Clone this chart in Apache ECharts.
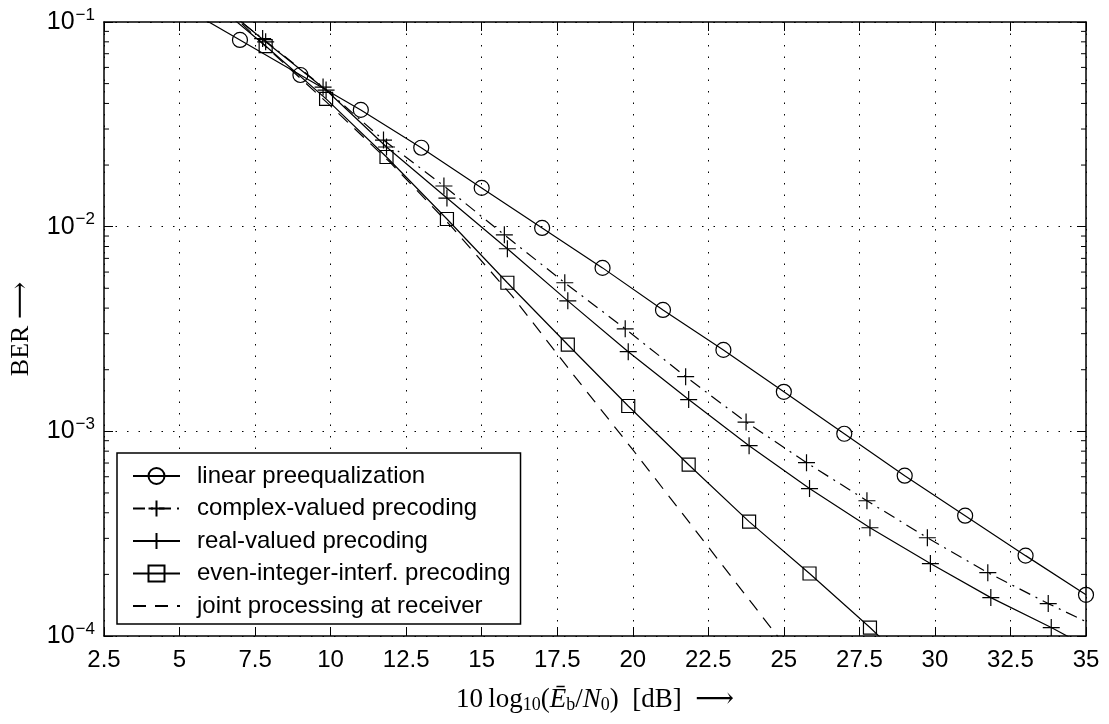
<!DOCTYPE html>
<html>
<head>
<meta charset="utf-8">
<script src="https://cdn.jsdelivr.net/npm/echarts@6/dist/echarts.min.js"></script>
<style>
html,body{margin:0;padding:0;background:#fff;}
#chart{width:1109px;height:724px;}
</style>
</head>
<body>
<div id="chart"></div>
<script>
// ---- data ----
const seriesNames = [
  'linear preequalization',
  'complex-valued precoding',
  'real-valued precoding',
  'even-integer-interf. precoding',
  'joint processing at receiver'
];
const xLinear = [5, 7, 9, 11, 13, 15, 17, 19, 21, 23, 25, 27, 29, 31, 33, 35];
const yLinear = [0.121, 0.0817, 0.0551, 0.0372, 0.0243, 0.01547, 0.00986, 0.00629, 0.00392, 0.0025, 0.00156, 0.000973, 0.000607, 0.000387, 0.000247, 0.000159];

const xComplex = [5.75, 7.75, 9.75, 11.75, 13.75, 15.75, 17.75, 19.75, 21.75, 23.75, 25.75, 27.75, 29.75, 31.75, 33.75, 35.75];
const yComplex = [0.14, 0.083, 0.0481, 0.0265, 0.0158, 0.00912, 0.00532, 0.00317, 0.00185, 0.00111, 0.000703, 0.000458, 0.000302, 0.000204, 0.000144, 0.000104];

const xReal = [5.85, 7.85, 9.85, 11.85, 13.85, 15.85, 17.85, 19.85, 21.85, 23.85, 25.85, 27.85, 29.85, 31.85, 33.85, 35.85];
const yReal = [0.14, 0.080, 0.0465, 0.0245, 0.0138, 0.0078, 0.00434, 0.00245, 0.00143, 0.000851, 0.000525, 0.000338, 0.000226, 0.000154, 0.00011, 0.0000764];

const xEven = [5.85, 7.85, 9.85, 11.85, 13.85, 15.85, 17.85, 19.85, 21.85, 23.85, 25.85, 27.85, 29.85];
const yEven = [0.135, 0.0763, 0.0421, 0.0219, 0.0109, 0.00532, 0.00265, 0.00133, 0.000687, 0.000362, 0.000202, 0.00011, 0.0000575];

const xJoint = [6, 8, 10, 12, 14, 16, 18, 20, 22, 24, 26];
const yJoint = [0.138, 0.0724, 0.0389, 0.0204, 0.0100, 0.0046, 0.00192, 0.000813, 0.000339, 0.000141, 0.0000589];

const xTickMin = 2.5, xTickMax = 35, xTickStep = 2.5;
const yMin = 1e-4, yMax = 1e-1;
const yMinorTicks = [2e-4,3e-4,4e-4,5e-4,6e-4,7e-4,8e-4,9e-4,
                     2e-3,3e-3,4e-3,5e-3,6e-3,7e-3,8e-3,9e-3,
                     2e-2,3e-2,4e-2,5e-2,6e-2,7e-2,8e-2,9e-2];

// ---- chart ----
const pairs = (xs, ys) => xs.map((x, i) => [x, ys[i]]);
const plusPath = 'path://M10,0L10,20M0,10L20,10';
const mk = {color: 'rgba(0,0,0,0)', borderColor: '#000', borderWidth: 1.2};
const sansFont = 'Liberation Sans, Arial, Helvetica, sans-serif';
const serifFont = 'Liberation Serif, DejaVu Serif, Times New Roman, serif';

const chart = echarts.init(document.getElementById('chart'), null, {renderer: 'canvas'});

const gridLine = {show: true, lineStyle: {color: '#000', width: 1, type: [1.5, 10]}};

const option = {
  animation: false,
  backgroundColor: '#fff',
  grid: {left: 104, right: 23, top: 22, bottom: 88, containLabel: false},
  xAxis: [{
    type: 'value', min: xTickMin, max: xTickMax, interval: xTickStep,
    position: 'bottom',
    axisLine: {show: true, onZero: false, lineStyle: {color: '#000', width: 1.5}},
    axisTick: {show: true, inside: true, length: 9, lineStyle: {color: '#000', width: 1}},
    axisLabel: {color: '#000', fontSize: 24, fontFamily: sansFont, margin: 12},
    splitLine: gridLine,
    name: '{n|10\u2009log}{sub|10}{n|(}{i|\u0112}{sub|b}{n|/}{i|N}{sub|0}{n|)\u2002[dB]\u2002\u27F6}',
    nameLocation: 'middle', nameGap: 50,
    nameTextStyle: {
      color: '#000', fontFamily: serifFont, fontSize: 26,
      rich: {
        n: {fontSize: 27, fontFamily: serifFont, color: '#000'},
        i: {fontSize: 27, fontFamily: serifFont, fontStyle: 'italic', color: '#000'},
        sub: {fontSize: 18, fontFamily: serifFont, color: '#000', padding: [10, 0, 0, 0]}
      }
    }
  }, {
    type: 'value', min: xTickMin, max: xTickMax, interval: xTickStep,
    position: 'top',
    axisLine: {show: true, onZero: false, lineStyle: {color: '#000', width: 1.5}},
    axisTick: {show: true, inside: true, length: 9, lineStyle: {color: '#000', width: 1}},
    axisLabel: {show: false},
    splitLine: {show: false}
  }],
  yAxis: [{
    type: 'log', logBase: 10, min: yMin, max: yMax,
    position: 'left',
    axisLine: {show: true, onZero: false, lineStyle: {color: '#000', width: 1.5}},
    axisTick: {show: true, inside: true, length: 9, lineStyle: {color: '#000', width: 1}},
    axisLabel: {
      color: '#000', margin: 9,
      formatter: v => '{b|10}{s|\u2212' + Math.round(-Math.log10(v)) + '}',
      rich: {
        b: {fontSize: 25, fontFamily: sansFont, color: '#000'},
        s: {fontSize: 17, fontFamily: sansFont, color: '#000', padding: [0, 0, 14, 1]}
      }
    },
    splitLine: gridLine,
    name: 'BER \u27F6',
    nameLocation: 'middle', nameGap: 70, nameRotate: 90,
    nameTextStyle: {color: '#000', fontFamily: serifFont, fontSize: 26}
  }, {
    type: 'log', logBase: 10, min: yMin, max: yMax,
    position: 'right',
    axisLine: {show: true, onZero: false, lineStyle: {color: '#000', width: 1.5}},
    axisTick: {show: true, inside: true, length: 9, lineStyle: {color: '#000', width: 1}},
    axisLabel: {show: false},
    splitLine: {show: false}
  }],
  legend: {
    show: true,
    data: seriesNames,
    orient: 'vertical',
    left: 117, top: 453,
    padding: [11, 10, 6, 15],
    itemWidth: 47, itemHeight: 20, itemGap: 8.5,
    backgroundColor: '#fff',
    borderColor: '#000', borderWidth: 1.5,
    textStyle: {color: '#000', fontSize: 24, fontFamily: sansFont, padding: [0, 0, 0, 12]},
    selectedMode: false
  },
  series: [
    {
      name: seriesNames[0], type: 'line', data: pairs(xLinear, yLinear),
      symbol: 'circle', symbolSize: 15, showAllSymbol: true, clip: true,
      lineStyle: {color: '#000', width: 1.2}, itemStyle: mk, z: 5
    },
    {
      name: seriesNames[1], type: 'line', data: pairs(xComplex, yComplex),
      symbol: plusPath, symbolSize: 17, showAllSymbol: true, clip: true,
      lineStyle: {color: '#000', width: 1.2, type: [12, 6, 2, 6]}, itemStyle: mk, z: 5
    },
    {
      name: seriesNames[2], type: 'line', data: pairs(xReal, yReal),
      symbol: plusPath, symbolSize: 17, showAllSymbol: true, clip: true,
      lineStyle: {color: '#000', width: 1.2}, itemStyle: mk, z: 5
    },
    {
      name: seriesNames[3], type: 'line', data: pairs(xEven, yEven),
      symbol: 'rect', symbolSize: 13, showAllSymbol: true, clip: true,
      lineStyle: {color: '#000', width: 1.2}, itemStyle: mk, z: 5
    },
    {
      name: seriesNames[4], type: 'line', data: pairs(xJoint, yJoint),
      symbol: 'circle', showSymbol: false, clip: true,
      lineStyle: {color: '#000', width: 1.2, type: [13, 9]},
      itemStyle: {color: 'rgba(0,0,0,0)', borderColor: 'rgba(0,0,0,0)'}, z: 5
    },
    {
      name: 'minorTicks', type: 'custom', silent: true, z: 4,
      data: yMinorTicks.map(v => [xTickMin, v]),
      renderItem: function (params, api) {
        const y = api.coord([xTickMin, api.value(1)])[1];
        const cs = params.coordSys;
        return {
          type: 'group',
          children: [
            {type: 'line', shape: {x1: cs.x, y1: y, x2: cs.x + 5, y2: y}, style: {stroke: '#000', lineWidth: 1}},
            {type: 'line', shape: {x1: cs.x + cs.width - 5, y1: y, x2: cs.x + cs.width, y2: y}, style: {stroke: '#000', lineWidth: 1}}
          ]
        };
      }
    }
  ]
};
chart.setOption(option);
</script>
</body>
</html>
